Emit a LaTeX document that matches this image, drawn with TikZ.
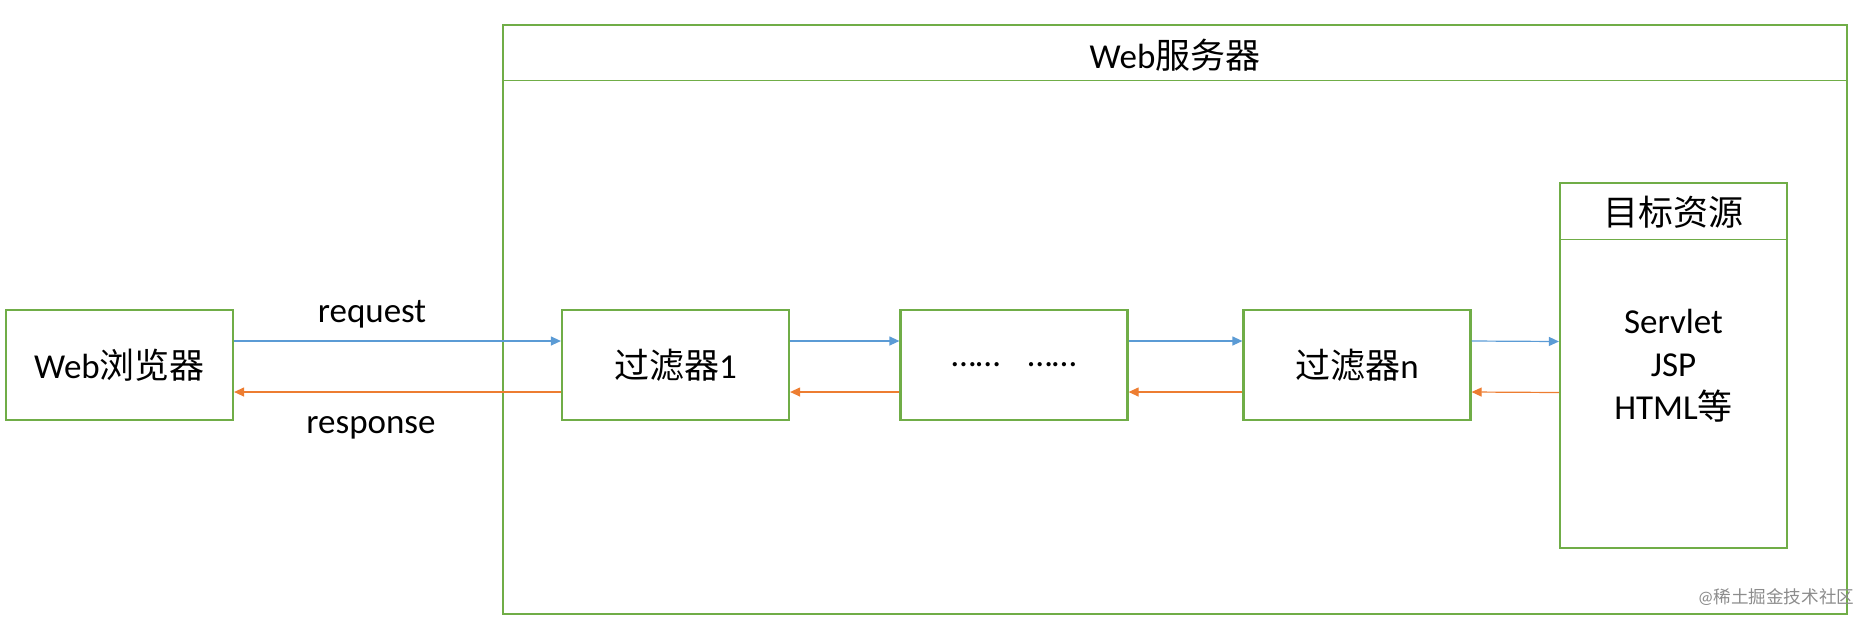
\documentclass[tikz,border=0pt]{standalone}
\usepackage{fontspec}
\setmainfont{Carlito}
\newfontfamily\cjk{Noto Sans CJK SC}
\newcommand{\zh}[1]{{\cjk #1}}
\usepackage{tikz}
\usetikzlibrary{arrows.meta,positioning}
\definecolor{boxgreen}{RGB}{112,173,71}
\definecolor{reqblue}{RGB}{91,155,213}
\definecolor{resorange}{RGB}{237,125,49}

\begin{document}
\begin{tikzpicture}[x=0.5pt,y=-0.5pt,
  every node/.style={font=\fontsize{17.5}{21.5}\selectfont},
  box/.style={draw=boxgreen,line width=1.1pt,minimum width=113.5pt,minimum height=55pt,inner sep=0pt,align=center},
  req/.style={draw=reqblue,line width=0.6pt,-{Triangle[length=5pt,width=4.5pt]}},
  res/.style={draw=resorange,line width=0.6pt,-{Triangle[length=5pt,width=4.5pt]}}]
  \useasboundingbox (0,0) rectangle (1872,628);
  % server frame with title bar
  \node[box,minimum width=672pt,minimum height=294.5pt] (server) at (1175,319.5) {};
  \draw[boxgreen,line width=0.5pt] ([yshift=-28.5pt]server.north west) -- ([yshift=-28.5pt]server.north east);
  \node (servertitle) at (1175,55) {Web\zh{服务器}};
  % chain of boxes
  \node[box] (browser) at (119.5,365) {Web\zh{浏览器}};
  \node[box] (f1) at (675.5,365) {\zh{过滤器}1};
  \node[box] (dots) at (1014,365) {……\hspace{14pt}……};
  \node[box] (fn) at (1357,365) {\zh{过滤器}n};
  \node[box,minimum height=182.5pt] (target) at (1673.5,365.5) {Servlet\\JSP\\HTML\zh{等}};
  \draw[boxgreen,line width=0.5pt] ([yshift=-29pt]target.north west) -- ([yshift=-29pt]target.north east);
  \node (targettitle) at (1673.5,212) {\zh{目标资源}};
  % request / response
  \foreach \a/\b in {browser/f1,f1/dots,dots/fn,fn/target} {
    \draw[req] ([yshift=12pt]\a.east) -- ([yshift=12pt]\b.west);
    \draw[res] ([yshift=-13.5pt]\b.west) -- ([yshift=-13.5pt]\a.east);
  }
  \node (reqlabel) at (372,314) {request};
  \node (reslabel) at (371,428) {response};
  \node[font=\fontsize{8.8}{10}\selectfont,text=black!45] (mark) at (1776,597) {@\zh{稀土掘金技术社区}};
\end{tikzpicture}
\end{document}
